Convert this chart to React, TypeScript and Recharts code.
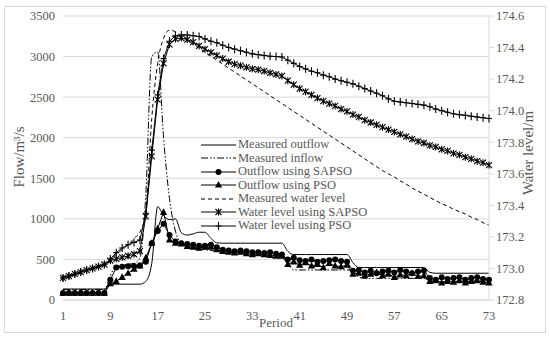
import { LineChart, Line, XAxis, YAxis, CartesianGrid } from 'recharts'

const periods = Array.from({ length: 73 }, (_, i) => i + 1)
const xTicks = [1, 9, 17, 25, 33, 41, 49, 57, 65, 73]
const flowTicks = [0, 500, 1000, 1500, 2000, 2500, 3000, 3500]
const levelTicks = [172.8, 173.0, 173.2, 173.4, 173.6, 173.8, 174.0, 174.2, 174.4, 174.6]

// flows in m3/s
const measuredOutflow = [
  135, 135, 135, 135, 135, 135, 135, 135,
  195, 195, 195, 195, 195, 195, 230, 450,
  1150, 1040, 990, 1000, 830, 800, 815, 835, 835, 760, 705,
  700, 700, 700, 700, 700, 700, 700, 700, 700, 700, 700,
  600, 560, 560, 560, 560, 560, 560, 560, 560, 560, 560,
  460, 400, 400, 400, 400, 400, 400, 400, 400, 400, 400, 400, 400,
  340, 330, 330, 330, 330, 330, 330, 330, 330, 330, 330,
]
const measuredInflow = [
  130, 130, 130, 130, 130, 130, 130, 130,
  300, 420, 430, 440, 450, 520, 1300, 3000,
  3060, 2000, 1250, 850, 700, 660, 640, 630, 620, 610, 600,
  590, 585, 580, 575, 570, 565, 560, 555, 550, 545, 540,
  450, 370, 370, 370, 370, 370, 370, 370, 370, 370, 370,
  360, 280, 267, 267, 267, 267, 267, 267, 267, 267, 267, 267, 267,
  235, 226, 226, 226, 226, 226, 226, 226, 226, 226, 226,
]
const outflowSapso = [
  85, 85, 85, 85, 85, 85, 85, 85,
  250, 400, 410, 415, 420, 425, 470, 700, 850, 940, 800,
  720, 700, 690, 680, 670, 670, 680, 650, 620, 610, 600, 610, 600, 590, 590, 580, 590, 570, 560,
  500, 520, 490, 480, 500, 470, 480, 490, 500, 480, 470,
  360, 370, 340, 360, 330, 350, 360, 340, 370, 350, 330, 350, 360,
  270, 250, 280, 260, 270, 280, 250, 270, 280, 260, 250,
]
const outflowPso = [
  85, 85, 85, 85, 85, 85, 85, 85,
  200, 230, 280, 330, 380, 420, 520, 700, 880, 1080, 740,
  700, 690, 660, 650, 640, 650, 650, 620, 600, 590, 580, 590, 570, 560, 570, 560, 550, 540, 540,
  440, 470, 430, 460, 420, 440, 400, 450, 420, 410, 430,
  320, 330, 300, 320, 340, 300, 320, 280, 310, 300, 330, 290, 300,
  230, 240, 210, 230, 220, 240, 210, 230, 240, 220, 210,
]

// water levels in m
const measuredLevel = [
  172.94, 172.95, 172.963, 172.975, 172.99, 173.0, 173.015, 173.03,
  173.055, 173.09, 173.12, 173.15, 173.19, 173.23, 173.36, 173.95, 174.3, 174.46, 174.51,
  174.5, 174.47, 174.45, 174.42, 174.4, 174.37, 174.345, 174.32, 174.295, 174.27,
  174.245, 174.22, 174.195, 174.17, 174.145, 174.12, 174.095, 174.07, 174.045, 174.02,
  173.995, 173.97, 173.945, 173.92, 173.895, 173.87, 173.845, 173.82, 173.795, 173.77,
  173.745, 173.72, 173.695, 173.67, 173.645, 173.62, 173.6, 173.58, 173.555, 173.535,
  173.51, 173.49, 173.47, 173.45, 173.43, 173.41, 173.395, 173.375, 173.36, 173.345,
  173.325, 173.31, 173.29, 173.275,
]
const levelSapso = [
  172.94, 172.952, 172.965, 172.977, 172.99, 173.0, 173.012, 173.025,
  173.05, 173.06, 173.07, 173.08, 173.09, 173.11, 173.33, 173.71, 174.07, 174.3, 174.42,
  174.455, 174.46, 174.45, 174.435, 174.41, 174.39, 174.37, 174.35, 174.33, 174.31,
  174.295, 174.285, 174.275, 174.265, 174.26, 174.25, 174.24, 174.23, 174.22, 174.19,
  174.165, 174.14, 174.12, 174.1, 174.08, 174.06, 174.045, 174.03, 174.01, 173.995,
  173.975, 173.96, 173.94, 173.925, 173.91, 173.895, 173.88, 173.865, 173.85, 173.835,
  173.82, 173.805, 173.795, 173.78, 173.77, 173.755, 173.745, 173.73, 173.72, 173.705,
  173.695, 173.68, 173.67, 173.655,
]
const levelPso = [
  172.94, 172.952, 172.965, 172.977, 172.99, 173.0, 173.012, 173.025,
  173.06, 173.1, 173.13, 173.15, 173.165, 173.18, 173.35, 173.75, 174.1, 174.33, 174.44,
  174.475, 174.48, 174.48, 174.475, 174.47, 174.455, 174.44, 174.43, 174.415, 174.4,
  174.39, 174.38, 174.37, 174.36, 174.355, 174.35, 174.345, 174.343, 174.34, 174.32,
  174.3, 174.28, 174.265, 174.25, 174.24, 174.225, 174.215, 174.2, 174.19, 174.18,
  174.17, 174.155, 174.14, 174.125, 174.11, 174.095, 174.075, 174.06, 174.055, 174.05,
  174.045, 174.04, 174.035, 174.025, 174.01, 174.0, 173.99, 173.98, 173.975, 173.97,
  173.965, 173.96, 173.955, 173.95,
]

const data = periods.map((p, i) => ({
  p,
  outflow: measuredOutflow[i],
  inflow: measuredInflow[i],
  sapso: outflowSapso[i],
  pso: outflowPso[i],
  level: measuredLevel[i],
  levelSapso: levelSapso[i],
  levelPso: levelPso[i],
}))

const FONT = "'Liberation Serif', 'Times New Roman', serif"
const TEXT = '#595959'
const GRID = '#d9d9d9'
const INFLOW_DASH = '7 2 1.5 2 1.5 2'
const LEVEL_DASH = '4 3'
const TICK_SIZE = 12.5

function makeTick(anchor: 'start' | 'middle' | 'end', dy: string, fmt?: (v: number) => string) {
  return (props: any) => {
    const { x, y, payload } = props
    const v = payload.value
    return (
      <text
        x={x}
        y={y}
        dy={dy}
        textAnchor={anchor}
        fill={TEXT}
        style={{ fontFamily: FONT, fontSize: TICK_SIZE }}
      >
        {fmt ? fmt(v) : String(v)}
      </text>
    )
  }
}

const bottomTick = makeTick('middle', '0.71em')
const leftTick = makeTick('end', '0.35em')
const rightTick = makeTick('start', '0.35em', (v) => v.toFixed(1))

function circleDot(props: any) {
  const { cx, cy, index } = props
  return <circle key={`c${index}`} cx={cx} cy={cy} r={3} fill="#000" />
}

function triangleDot(props: any) {
  const { cx, cy, index } = props
  return (
    <path
      key={`t${index}`}
      d={`M${cx},${cy - 4}L${cx + 3.6},${cy + 2.6}L${cx - 3.6},${cy + 2.6}Z`}
      fill="#000"
    />
  )
}

function starDot(props: any) {
  const { cx, cy, index } = props
  return (
    <path
      key={`s${index}`}
      d={`M${cx - 3},${cy - 3}L${cx + 3},${cy + 3}M${cx - 3},${cy + 3}L${cx + 3},${cy - 3}M${cx},${cy - 3.5}L${cx},${cy + 3.5}`}
      stroke="#000"
      strokeWidth={1.1}
      fill="none"
    />
  )
}

function plusDot(props: any) {
  const { cx, cy, index } = props
  return (
    <path
      key={`p${index}`}
      d={`M${cx - 3},${cy}L${cx + 3},${cy}M${cx},${cy - 4}L${cx},${cy + 4}`}
      stroke="#000"
      strokeWidth={1.1}
      fill="none"
    />
  )
}

const legendItems = [
  { name: 'Measured outflow', dash: undefined, marker: null },
  { name: 'Measured inflow', dash: INFLOW_DASH, marker: null },
  { name: 'Outflow using SAPSO', dash: undefined, marker: circleDot },
  { name: 'Outflow using PSO', dash: undefined, marker: triangleDot },
  { name: 'Measured water level', dash: LEVEL_DASH, marker: null },
  { name: 'Water level using SAPSO', dash: undefined, marker: starDot },
  { name: 'Water level using PSO', dash: undefined, marker: plusDot },
]

function LegendBox() {
  return (
    <div style={{ position: 'absolute', left: 200, top: 138, fontSize: 12.5, color: TEXT }}>
      {legendItems.map((it, i) => (
        <div key={it.name} style={{ display: 'flex', alignItems: 'center', height: 13.5 }}>
          <svg width={37} height={12} style={{ display: 'block' }}>
            <line x1={1} y1={6} x2={36} y2={6} stroke="#000" strokeWidth={1} strokeDasharray={it.dash} />
            {it.marker ? it.marker({ cx: 18.5, cy: 6, index: i }) : null}
          </svg>
          <span style={{ marginLeft: 1, whiteSpace: 'nowrap', lineHeight: '13.5px' }}>{it.name}</span>
        </div>
      ))}
    </div>
  )
}

export default function App() {
  return (
    <div
      style={{
        position: 'absolute',
        left: 0,
        top: 0,
        width: 550,
        height: 342,
        background: '#fff',
        fontFamily: FONT,
      }}
    >
      <div
        style={{
          position: 'absolute',
          left: 4,
          top: 6,
          width: 542,
          height: 327,
          border: `1px solid ${GRID}`,
          boxSizing: 'border-box',
        }}
      />
      <LineChart width={550} height={342} data={data} margin={{ top: 16, right: 0, bottom: 0, left: 0 }}>
        <CartesianGrid yAxisId="flow" vertical={false} stroke={GRID} />
        <XAxis
          dataKey="p"
          type="number"
          domain={[1, 73]}
          ticks={xTicks}
          height={42}
          tick={bottomTick}
          tickLine={false}
          tickSize={0}
          tickMargin={11}
          axisLine={{ stroke: GRID }}
          interval={0}
        />
        <YAxis
          yAxisId="flow"
          width={63}
          domain={[0, 3500]}
          ticks={flowTicks}
          tick={leftTick}
          tickLine={false}
          axisLine={false}
          tickSize={0}
          tickMargin={8}
          interval={0}
        />
        <YAxis
          yAxisId="level"
          orientation="right"
          width={61}
          domain={[172.8, 174.6]}
          ticks={levelTicks}
          tick={rightTick}
          tickLine={{ stroke: GRID }}
          axisLine={{ stroke: GRID }}
          tickSize={5}
          tickMargin={2}
          interval={0}
        />
        <Line yAxisId="flow" type="monotone" dataKey="outflow" stroke="#000" strokeWidth={1} dot={false} isAnimationActive={false} />
        <Line yAxisId="flow" type="monotone" dataKey="inflow" stroke="#000" strokeWidth={1} strokeDasharray={INFLOW_DASH} dot={false} isAnimationActive={false} />
        <Line yAxisId="flow" type="linear" dataKey="sapso" stroke="#000" strokeWidth={1} dot={circleDot} isAnimationActive={false} />
        <Line yAxisId="flow" type="linear" dataKey="pso" stroke="#000" strokeWidth={1} dot={triangleDot} isAnimationActive={false} />
        <Line yAxisId="level" type="monotone" dataKey="level" stroke="#000" strokeWidth={1} strokeDasharray={LEVEL_DASH} dot={false} isAnimationActive={false} />
        <Line yAxisId="level" type="linear" dataKey="levelSapso" stroke="#000" strokeWidth={1} dot={starDot} isAnimationActive={false} />
        <Line yAxisId="level" type="linear" dataKey="levelPso" stroke="#000" strokeWidth={1} dot={plusDot} isAnimationActive={false} />
      </LineChart>
      <div
        style={{
          position: 'absolute',
          left: 19,
          top: 157,
          transform: 'translate(-50%, -50%) rotate(-90deg)',
          fontSize: 15,
          color: TEXT,
          whiteSpace: 'nowrap',
        }}
      >
        Flow/m³/s
      </div>
      <div
        style={{
          position: 'absolute',
          left: 528,
          top: 153,
          transform: 'translate(-50%, -50%) rotate(-90deg)',
          fontSize: 15,
          color: TEXT,
          whiteSpace: 'nowrap',
        }}
      >
        Water level/m
      </div>
      <div
        style={{
          position: 'absolute',
          left: 276,
          top: 323,
          transform: 'translate(-50%, -50%)',
          fontSize: 13,
          color: TEXT,
          whiteSpace: 'nowrap',
        }}
      >
        Period
      </div>
      <LegendBox />
    </div>
  )
}
